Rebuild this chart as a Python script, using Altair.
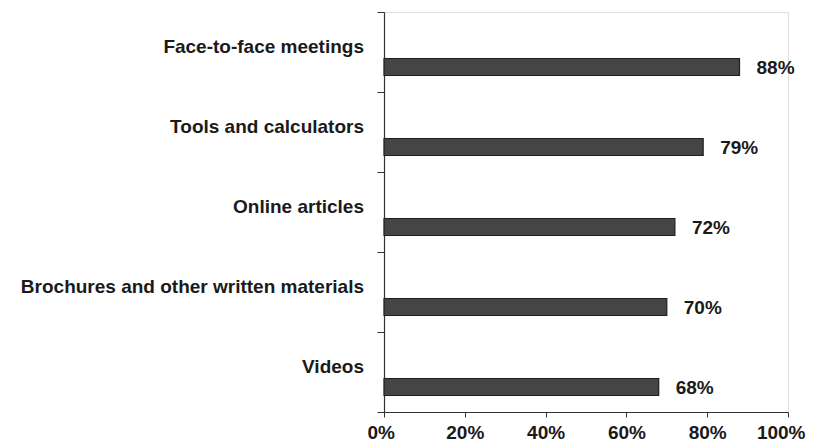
import altair as alt
import pandas as pd

categories = ["Face-to-face meetings", "Tools and calculators", "Online articles",
              "Brochures and other written materials", "Videos"]
values = [88, 79, 72, 70, 68]
labels = ["88%", "79%", "72%", "70%", "68%"]
x_ticks = [0, 20, 40, 60, 80, 100]

df = pd.DataFrame({"category": categories, "value": values, "label": labels})

FONT = "Liberation Sans"
ycat = alt.Y("category:N", sort=categories,
             scale=alt.Scale(paddingInner=0, paddingOuter=0),
             axis=alt.Axis(title=None, labels=False, tickBand="extent", tickSize=7,
                           domainColor="#333", tickColor="#333", domainWidth=1.2,
                           grid=False))
xval = alt.X("value:Q", scale=alt.Scale(domain=[0, 100], nice=False),
             axis=alt.Axis(title=None, values=x_ticks, labelExpr="datum.value + '%'",
                           labelFlush=True, labelFlushOffset=17, labelOverlap=False,
                           grid=False, tickSize=5, labelPadding=6, labelFont=FONT,
                           labelFontSize=19, labelFontWeight="bold", labelColor="#1a1a1a",
                           domainColor="#333", tickColor="#333", domainWidth=1.2))

base = alt.Chart(df)

bars = base.mark_bar(height=17, yOffset=15, color="#454545", stroke="#1e1e1e",
                     strokeWidth=1.2).encode(x=xval, y=ycat)

vals = base.mark_text(align="left", baseline="middle", dx=17, yOffset=16, font=FONT,
                      fontSize=19, fontWeight="bold", color="#1a1a1a").encode(
    x="value:Q", y=alt.Y("category:N", sort=categories), text="label:N")

cats = base.mark_text(align="right", baseline="middle", yOffset=-5, font=FONT,
                      fontSize=19, fontWeight="bold", color="#1a1a1a").encode(
    x=alt.value(-20), y=alt.Y("category:N", sort=categories), text="category:N")

chart = alt.layer(bars, vals, cats).properties(
    width=404, height=400,
    autosize=alt.AutoSizeParams(type="none"),
    padding={"left": 376, "top": 4, "right": 21, "bottom": 30},
).configure_view(stroke=None).configure(background="white")

chart.save("out.html", embed_options={"renderer": "svg", "actions": False})
